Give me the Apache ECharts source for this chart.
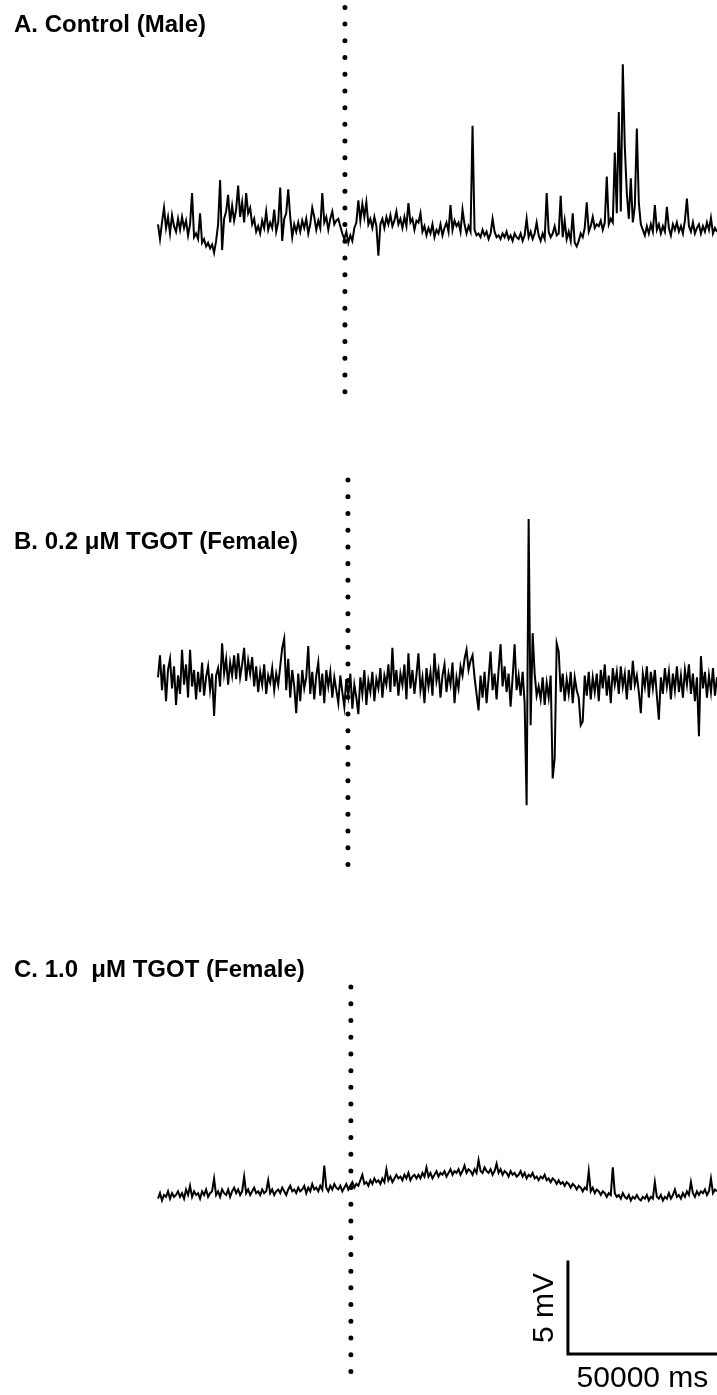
<!DOCTYPE html>
<html>
<head>
<meta charset="utf-8">
<script src="https://cdn.jsdelivr.net/npm/echarts@6/dist/echarts.min.js"></script>
<style>
  html, body { margin: 0; padding: 0; background: #fff; }
  #chart { width: 717px; height: 1395px; }
</style>
</head>
<body>
<div id="chart"></div>
<script>
// Sweep timing (ms)
const SAMPLE_MS = 672;
const SWEEP_MS = 187500;

const panelTitles = ['A. Control (Male)', 'B. 0.2 μM TGOT (Female)', 'C. 1.0  μM TGOT (Female)'];

// Membrane potential relative to resting baseline (mV), one sample every SAMPLE_MS
const traceControlMale = [
  0.2, -0.6, 0.3, 1.1, 0.0, 0.6, -0.3, 0.7, 0.1, -0.2,
  0.5, -0.1, 0.6, 0.0, 0.4, -0.4, 0.2, 1.9, -0.5, -0.3,
  -0.6, 0.8, -0.8, -0.6, -1.0, -0.8, -1.1, -0.9, -1.35, -0.7,
  0.2, 2.6, -1.2, 0.5, 0.9, 1.8, 0.3, 1.2, 0.4, 1.0,
  2.3, 0.6, 1.4, 0.3, 1.9, 0.8, 1.1, 0.2, 0.5, -0.2,
  0.1, -0.3, 0.4, 0.0, 0.9, -0.1, 0.3, 0.0, 1.0, -0.2,
  0.3, 2.2, -0.7, 0.5, 0.8, 2.1, 0.6, -0.5, 0.2, -0.2,
  0.3, -0.2, 0.4, 0.0, 0.5, -0.3, 0.2, 1.1, 0.6, -0.1,
  0.4, 0.0, 1.9, 0.3, 0.6, -0.1, 0.5, 0.9, 0.2, 0.4,
  0.5, 0.1, -0.3, -0.6, -0.2, -0.8, -0.4, -0.7, 0.0, 0.3,
  1.5, 0.4, 1.3, 0.6, 1.4, 0.2, 0.5, 0.0, 0.6, 0.1,
  -1.5, 0.2, 0.5, 0.0, 0.6, 0.2, 0.7, 0.1, 0.4, 0.9,
  0.2, 0.5, 0.0, 0.6, 0.1, 1.35, 0.3, 0.5, -0.1, 0.4,
  0.3, 0.8, -0.2, 0.1, -0.4, 0.0, -0.3, 0.2, -0.5, -0.1,
  -0.3, 0.2, -0.4, 0.0, 0.3, -0.2, 1.25, -0.1, 0.4, 0.1,
  0.3, -0.2, 1.0, 0.2, -0.3, 0.1, -0.2, 5.55, -0.1, -0.4,
  -0.3, -0.5, -0.1, -0.4, -0.2, -0.6, -0.3, 0.5, -0.2, -0.5,
  -0.4, -0.6, -0.3, -0.5, -0.2, -0.6, -0.4, -0.7, -0.3, -0.5,
  -0.6, -0.3, -0.7, -0.4, 0.5, -0.5, -0.2, -0.6, -0.3, 0.3,
  -0.4, -0.7, -0.3, -0.6, 1.9, -0.2, -0.5, -0.3, 0.1, -0.4,
  -0.3, 1.75, -0.5, 0.4, -0.6, -0.2, -0.7, 0.8, -0.8, -1.0,
  -0.7, -0.3, -0.5, 0.0, 1.4, -0.2, 0.1, 0.6, 0.0, 0.2,
  0.1, 0.4, -0.1, 0.3, 2.8, 0.2, 0.5, 0.3, 4.1, 0.8,
  6.3, 0.9, 8.9, 4.4, 1.9, 0.5, 2.7, 0.3, 1.2, 5.4,
  1.35, 0.2, -0.1, -0.4, 0.1, -0.3, 0.2, -0.2, 1.25, -0.1,
  0.2, -0.3, 0.1, -0.2, 1.15, 0.0, -0.4, 0.2, -0.1, 0.3,
  -0.2, 0.1, -0.3, 0.4, 1.6, 0.1, -0.2, 0.3, -0.3, 0.0,
  0.2, -0.3, 0.1, -0.2, 0.3, -0.1, 0.55, -0.3, 0.0, -0.2
];

const traceTgot02Female = [
  0.2, 1.4, -0.5, 0.9, -1.1, 0.6, 1.2, -0.4, 0.8, -1.3,
  0.3, -0.7, 1.7, -0.2, 0.9, -0.9, 1.7, -0.3, 0.6, -1.0,
  0.5, -0.6, 1.0, -0.8, 0.2, 0.8, -0.5, 0.4, -1.9, 0.3,
  0.7, -0.3, 2.05, 0.4, 1.2, -0.2, 1.0, 0.3, 1.4, 0.1,
  1.5, 0.2, 0.9, 1.8, 0.0, 1.1, 0.4, 1.3, -0.3, 0.8,
  -0.6, 0.5, -0.2, 0.9, -0.7, 0.3, -0.1, 0.7, -0.5, 0.4,
  -0.2, 0.8, 1.8, 2.3, -0.5, 1.2, -0.9, 0.6, -0.3, -1.75,
  0.4, -1.1, 0.6, -0.4, 0.2, 1.9, -0.7, 0.5, -1.0, 0.3,
  1.0, -0.8, 0.4, -1.2, 0.6, -0.3, 0.5, -0.9, 0.2, -0.5,
  -1.2, 0.3, -0.6, -1.4, 0.1, -0.8, 0.4, -1.5, -0.2, -0.9,
  -1.8, 0.2, -0.7, 0.6, -1.3, 0.0, -0.6, 0.5, -1.1, 0.1,
  -0.4, 0.7, -0.9, 0.3, -0.2, 0.9, -0.6, 1.8, -0.3, 0.6,
  -0.8, 0.4, -0.2, 0.9, -1.0, 1.5, -0.4, 0.6, -0.7, 0.3,
  1.5, -0.5, 0.2, -1.2, 0.7, -0.3, 0.5, -0.8, 1.5, 0.0,
  0.6, -0.9, 0.3, 0.9, -0.6, 0.4, -0.2, 1.0, -1.2, 0.2,
  -0.4, 0.8, 0.3, 1.2, 1.7, 0.6, 1.1, 1.4, 0.2, -0.7,
  -1.6, 0.3, -0.9, 0.5, -1.2, 0.1, 1.6, -0.5, 0.4, -1.0,
  0.6, 2.0, -0.3, 0.8, -0.6, 0.4, -1.4, 0.2, 2.0, -0.5,
  0.3, -0.8, 0.5, -1.2, -6.75, 8.8, -2.4, 2.6, 0.4, -0.8,
  -0.3, -1.0, 0.2, -1.3, -0.1, -0.9, 0.3, -5.3, -4.2, 2.05,
  1.6, -0.6, 0.4, -1.1, 0.1, -0.7, 0.5, -1.2, 0.2, -0.5,
  -0.9, -2.4, -2.2, 0.3, -0.8, 0.5, -1.0, 0.2, -0.6, 0.4,
  -1.1, 0.6, -0.4, 0.9, -0.8, 0.3, -1.2, 0.7, -0.2, 0.5,
  -0.7, 0.8, -0.3, 0.4, -1.0, 0.6, -0.5, 1.1, -0.2, 0.3,
  -0.6, -1.75, 0.4, -0.3, 0.8, -0.9, 0.5, -0.4, 0.6, -0.8,
  -2.1, 0.2, -0.7, 0.7, -0.3, 0.5, -1.0, 0.4, -0.5, 0.8,
  -0.6, 0.3, -0.9, 0.6, -0.2, 0.9, -0.7, 0.4, -1.1, 0.2,
  -3.0, 1.35, -0.4, 0.5, -0.9, 0.3, -0.6, 0.7, -0.8, 0.2
];

const traceTgot10Female = [
  -0.2, 0.1, -0.3, 0.0, -0.1, 0.2, -0.2, 0.1, -0.1, 0.0,
  0.2, -0.1, 0.1, -0.2, 0.3, 0.0, 0.5, -0.1, 0.2, 0.0,
  0.1, -0.2, 0.2, 0.0, 0.3, -0.1, 0.1, 0.2, 0.9, 0.0,
  0.2, -0.1, 0.3, 0.1, 0.0, 0.3, -0.1, 0.2, 0.4, 0.1,
  0.3, 0.0, 0.2, 1.0, 0.1, 0.3, 0.0, 0.2, 0.4, 0.1,
  0.2, 0.0, 0.3, 0.1, 0.2, 0.8, 0.1, 0.3, 0.0, 0.2,
  0.3, 0.1, 0.4, 0.2, 0.0, 0.3, 0.5, 0.2, 0.3, 0.1,
  0.4, 0.2, 0.3, 0.5, 0.1, 0.4, 0.2, 0.6, 0.3, 0.4,
  0.2, 0.5, 0.3, 1.6, 0.4, 0.2, 0.5, 0.3, 0.6, 0.4,
  0.3, 0.5, 0.2, 0.4, 0.6, 0.3, 0.5, 0.7, 0.4, 0.6,
  0.5, 0.8, 1.1, 0.6, 0.7, 0.5, 0.8, 0.6, 0.9, 0.7,
  0.8, 0.6, 0.9, 0.7, 1.4, 0.8, 1.0, 0.7, 0.9, 1.1,
  0.9, 1.0, 0.8, 1.1, 0.9, 1.2, 0.8, 1.0, 1.1, 0.9,
  1.1, 0.9, 1.2, 1.0, 1.5, 1.0, 1.2, 0.9, 1.1, 1.3,
  1.0, 1.2, 1.1, 1.3, 1.0, 1.2, 1.4, 1.1, 1.3, 1.2,
  1.4, 1.1, 1.3, 1.6, 1.2, 1.4, 1.3, 1.1, 1.4, 1.2,
  1.9, 1.3, 1.2, 1.5, 1.3, 1.2, 1.4, 1.1, 1.3, 1.7,
  1.2, 1.4, 1.1, 1.3, 1.2, 1.0, 1.3, 1.1, 1.2, 1.0,
  1.1, 1.3, 1.0, 1.2, 0.9, 1.1, 1.0, 1.2, 0.9, 1.0,
  0.8, 1.0, 0.9, 1.1, 0.8, 0.9, 0.7, 0.9, 0.8, 0.6,
  0.8, 0.6, 0.7, 0.5, 0.7, 0.6, 0.4, 0.6, 0.5, 0.3,
  0.5, 0.4, 0.2, 0.4, 0.3, 1.3, 0.2, 0.4, 0.1, 0.3,
  0.2, 0.0, 0.2, 0.1, -0.1, 0.1, 0.0, 1.5, 0.1, -0.1,
  0.0, -0.2, 0.1, -0.1, -0.2, 0.0, -0.3, -0.1, -0.2, 0.0,
  -0.2, -0.3, -0.1, -0.2, 0.0, -0.3, -0.1, -0.2, 0.7, -0.1,
  -0.2, 0.0, -0.3, -0.1, -0.2, 0.1, -0.2, 0.0, 0.3, -0.1,
  0.0, -0.2, 0.1, -0.1, 0.2, 0.0, 0.7, 0.1, -0.1, 0.2,
  0.0, 0.2, 0.1, 0.3, 0.0, 0.2, 0.9, 0.1, 0.3, 0.2
];

// Drug application time in each sweep (ms) and the dotted marker's extent (mV, top / bottom)
const applicationMs = [62700, 63700, 64700];
const markerTopMv = [11.99, 10.92, 11.30];
const markerBottomMv = [-8.96, -10.05, -9.65];

// Calibration bar
const scaleBarMs = 50000;
const scaleBarMv = 5;
const scaleBarStartMs = 137500;
const scaleBarBaseMv = -8.64;
const scaleBarTimeLabel = '50000 ms';
const scaleBarVoltLabel = '5 mV';

// ---- layout ----
const PX_PER_MV = 18.4;
const GRID_LEFT = 158;
const panels = [
  { top: 0,   height: 465, zeroY: 228,  titleTop: 13 },
  { top: 465, height: 465, zeroY: 681,  titleTop: 530 },
  { top: 930, height: 465, zeroY: 1195, titleTop: 958 }
];
const traces = [traceControlMale, traceTgot02Female, traceTgot10Female];
const FONT = '"Liberation Sans", Arial, Helvetica, sans-serif';

const grids = [], xAxes = [], yAxes = [], series = [], titles = [];
panels.forEach((p, k) => {
  grids.push({ left: GRID_LEFT, right: 0, top: p.top, height: p.height });
  xAxes.push({ type: 'value', gridIndex: k, min: 0, max: SWEEP_MS, show: false });
  yAxes.push({
    type: 'value', gridIndex: k, show: false,
    max: (p.zeroY - p.top) / PX_PER_MV,
    min: -(p.top + p.height - p.zeroY) / PX_PER_MV
  });
  titles.push({
    text: panelTitles[k], left: 14, top: p.titleTop, padding: 0,
    textStyle: { fontFamily: FONT, fontWeight: 'bold', fontSize: 24, color: '#000' }
  });
  // application marker (dotted vertical line)
  series.push({
    type: 'line', xAxisIndex: k, yAxisIndex: k, symbol: 'none', silent: true, z: 1,
    data: [[applicationMs[k], markerTopMv[k]], [applicationMs[k], markerBottomMv[k]]],
    lineStyle: { color: '#000', width: 5, type: [0.01, 16.7], cap: 'round' }
  });
  // voltage trace
  series.push({
    type: 'line', xAxisIndex: k, yAxisIndex: k, symbol: 'none', silent: true, z: 3,
    data: traces[k].map((v, i) => [i * SAMPLE_MS, v]),
    lineStyle: { color: '#000', width: 2, join: 'miter' }
  });
});

// calibration bar in the bottom panel
series.push({
  type: 'line', xAxisIndex: 2, yAxisIndex: 2, symbol: 'none', silent: true, z: 3,
  data: [
    [scaleBarStartMs, scaleBarBaseMv + scaleBarMv],
    [scaleBarStartMs, scaleBarBaseMv],
    [scaleBarStartMs + scaleBarMs, scaleBarBaseMv]
  ],
  lineStyle: { color: '#000', width: 3, join: 'miter', cap: 'square' }
});

const chart = echarts.init(document.getElementById('chart'), null, { renderer: 'canvas' });
chart.setOption({
  animation: false,
  backgroundColor: '#fff',
  title: titles,
  grid: grids,
  xAxis: xAxes,
  yAxis: yAxes,
  series: series
});

// calibration labels placed from the bar's own coordinates
const barCorner = chart.convertToPixel({ gridIndex: 2 }, [scaleBarStartMs, scaleBarBaseMv]);
const barTop = chart.convertToPixel({ gridIndex: 2 }, [scaleBarStartMs, scaleBarBaseMv + scaleBarMv]);
const barEnd = chart.convertToPixel({ gridIndex: 2 }, [scaleBarStartMs + scaleBarMs, scaleBarBaseMv]);
chart.setOption({
  graphic: [
    {
      type: 'text', x: (barCorner[0] + barEnd[0]) / 2, y: barCorner[1] + 10,
      style: {
        text: scaleBarTimeLabel, fill: '#000', font: '30px ' + FONT,
        align: 'center', verticalAlign: 'top', textAlign: 'center', textVerticalAlign: 'top'
      }
    },
    {
      type: 'text', x: barCorner[0] - 23, y: (barCorner[1] + barTop[1]) / 2, rotation: Math.PI / 2,
      style: {
        text: scaleBarVoltLabel, fill: '#000', font: '30px ' + FONT,
        align: 'center', verticalAlign: 'middle', textAlign: 'center', textVerticalAlign: 'middle'
      }
    }
  ]
});
</script>
</body>
</html>
